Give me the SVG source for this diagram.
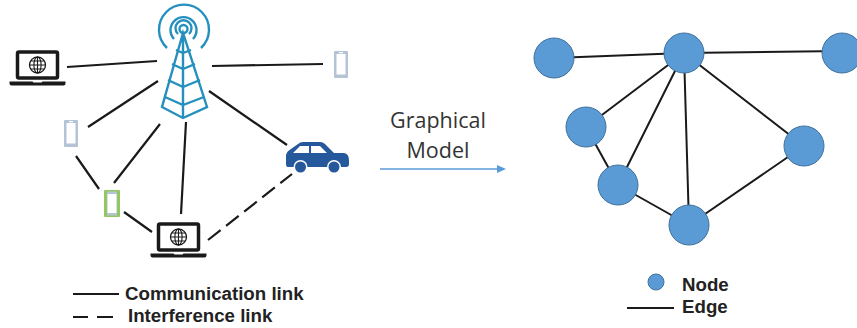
<svg xmlns="http://www.w3.org/2000/svg" width="857" height="328" viewBox="0 0 857 328">
<defs>
<style>
.l{stroke:#1a1a1a;stroke-width:2.2;fill:none}
.e{stroke:#1a1a1a;stroke-width:2;fill:none}
.n{fill:#5b9bd5;stroke:#41719c;stroke-width:1}
.t{stroke:#2590bd;stroke-width:2.4;fill:none}
.b{font:bold 18.700px "Liberation Sans",Arial,sans-serif;fill:#222}
.g{font:21.500px "Open Sans","Liberation Sans",sans-serif;fill:#333}
.ph{fill:#b4c3d6}
.sc{fill:#fff}
</style>
<g id="laptop"><rect x="-20" y="-13" width="40" height="26" rx="1.500" fill="#fff" stroke="#1a1a1a" stroke-width="3.500"/><circle cx="0" cy="0" r="8" fill="none" stroke="#1a1a1a" stroke-width="1.300"/><ellipse cx="0" cy="0" rx="3.600" ry="8" fill="none" stroke="#1a1a1a" stroke-width="1.100"/><path d="M0-8V8M-8 0H8M-7-4H7M-7 4H7" stroke="#1a1a1a" stroke-width="1.100"/><path d="M-28 16.500H-5L-4 17.500H4L5 16.500H28V18.500Q28 20.500 26 20.500H-26Q-28 20.500-28 18.500Z" fill="#1a1a1a"/></g>
</defs>
<rect width="857" height="328" fill="#fff"/>
<g id="connectors">
<path class="l" d="M67 67L157 61M212 66L323 64M88 127L158 81M76 156L99 189M114 183L160 124M186 122L181 214M209 91L287 145M124 212L152 232"/>
<path class="l" d="M208 240L292 174" stroke-dasharray="16 7"/>
<path class="e" d="M554 58L684 53L842 51M684 53L586 127M684 53L618 185M684 53L689 225M684 53L804 146M586 127L618 185M618 185L689 225M689 225L804 146"/>
<path d="M380 169H498" stroke="#5b9bd5" stroke-width="1.500"/>
<path d="M497 165L506 169L497 173Z" fill="#5b9bd5"/>
<path class="e" d="M73 294H119"/>
<path class="e" d="M73 317H88M97 317H113"/>
<path class="e" d="M627 308H674"/>
</g>
<g id="tower">
<path class="t" d="M167 48A25 25 0 1 1 201 48M174 39A13 13 0 1 1 193 39M178 34A8 8 0 1 1 189 34"/>
<circle class="t" cx="183.500" cy="29" r="4"/>
<path class="t" d="M183 33L162 107L183 118L207 107ZM183 33V118M176 50L183 53L191 50M172 64L183 69L195 64M168 80L183 87L200 80M165 97L183 105L204 97"/>
</g>
<use id="laptop1" href="#laptop" x="37.500" y="65"/>
<use id="laptop2" href="#laptop" x="178.500" y="237"/>
<g id="phone1"><rect class="ph" x="64" y="120" width="14" height="27" rx="1"/><rect class="sc" x="66.500" y="123" width="9" height="20.500"/><rect class="sc" x="69" y="121" width="4" height="1.200"/></g>
<g id="phone2"><rect class="ph" x="334" y="51" width="14" height="27" rx="1"/><rect class="sc" x="336.500" y="54" width="9" height="20.500"/><rect class="sc" x="339" y="52" width="4" height="1.200"/></g>
<g id="phone3"><rect x="104" y="190" width="16" height="27" rx="1" fill="#92c95f"/><rect class="ph" x="107" y="191.500" width="10" height="24"/><rect class="sc" x="107.500" y="194" width="9" height="19"/></g>
<g id="car">
<path d="M286 155Q287 151 291 149L298 144Q300 142 303 142H320Q323 142 325 144L334 153H344Q349 154 349 160V164Q349 167 346 167H288Q286 167 286 164Z" fill="#26589c"/>
<path d="M293 153L300 146H309V153ZM311 146H320L327 153H311Z" fill="#fff"/>
<circle cx="300.500" cy="167" r="7" fill="#fff"/><circle cx="334" cy="167" r="7" fill="#fff"/>
<circle cx="300.500" cy="167" r="5.500" fill="#26589c"/><circle cx="334" cy="167" r="5.500" fill="#26589c"/>
</g>
<g id="g1"><circle class="n" cx="554" cy="58" r="20"/></g>
<g id="g2"><circle class="n" cx="684" cy="53" r="20"/></g>
<g id="g3"><circle class="n" cx="842" cy="53" r="20"/></g>
<g id="g4"><circle class="n" cx="586" cy="127" r="20"/></g>
<g id="g5"><circle class="n" cx="618" cy="185" r="20"/></g>
<g id="g6"><circle class="n" cx="689" cy="225" r="20"/></g>
<g id="g7"><circle class="n" cx="804" cy="146" r="20"/></g>
<g id="legend-node"><circle class="n" cx="656" cy="282" r="8"/></g>
<text class="g" x="438" y="128" text-anchor="middle">Graphical</text>
<text class="g" x="438" y="158" text-anchor="middle">Model</text>
<text class="b" x="125" y="300">Communication link</text>
<text class="b" x="128" y="322">Interference link</text>
<text class="b" x="682" y="291">Node</text>
<text class="b" x="682" y="313">Edge</text>
</svg>
